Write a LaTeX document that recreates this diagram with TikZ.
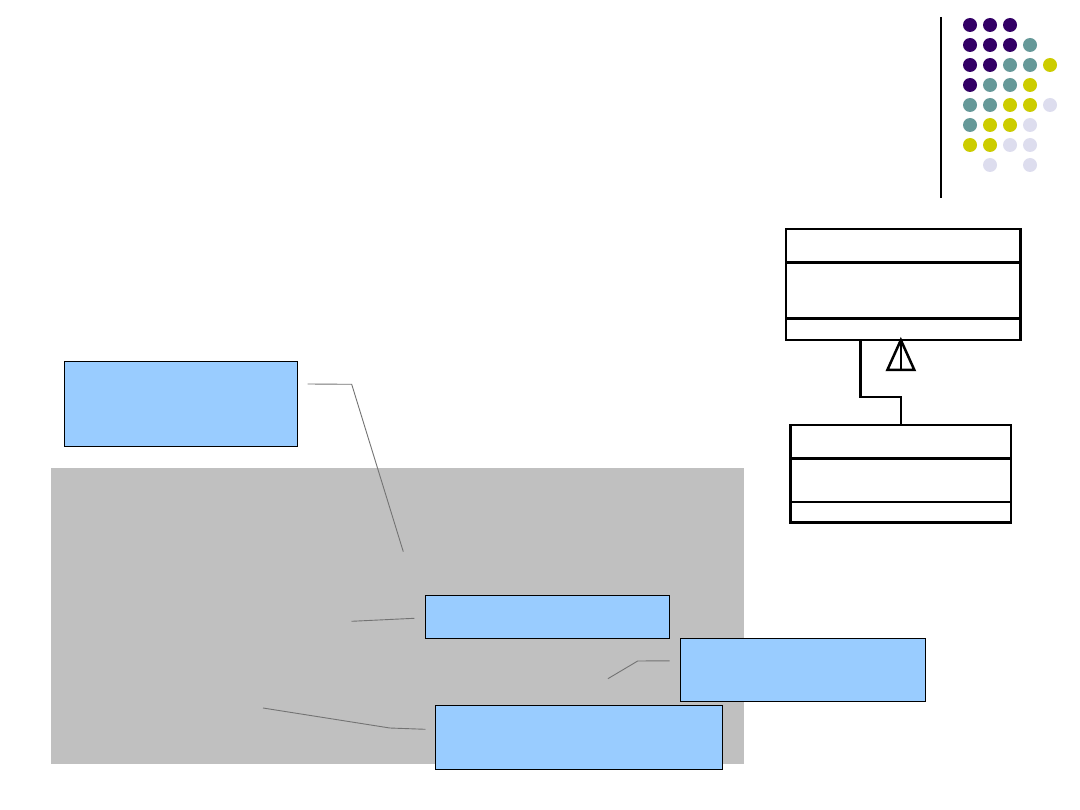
\documentclass[tikz,border=0pt]{standalone}
\usepackage{tikz}
\usetikzlibrary{positioning, calc}
\definecolor{dotP}{HTML}{330066}
\definecolor{dotT}{HTML}{669999}
\definecolor{dotY}{HTML}{CCCC00}
\definecolor{dotL}{HTML}{DDDDEE}
\definecolor{notec}{HTML}{99CCFF}
\definecolor{panelc}{HTML}{C0C0C0}
\tikzset{
  umlbox/.style={rectangle, draw=black, fill=white, line width=2.5pt,
                 inner sep=0pt, outer sep=0pt},
  uml/.style={black, line width=2.5pt},
  callout/.style={rectangle, draw=black, fill=notec, line width=1pt,
                  inner sep=0pt, outer sep=0pt},
  leader/.style={black!55, line width=0.9pt},
}
\newcommand{\umlclass}[6]{%
  \node[umlbox, minimum width=#3, minimum height=#4,
        anchor=north west] (#1) at #2 {};
  \draw[uml] ($(#1.north west)+(0,#5)$) -- ($(#1.north east)+(0,#5)$);
  \draw[uml] ($(#1.north west)+(0,#6)$) -- ($(#1.north east)+(0,#6)$);
}
\newcommand{\callbox}[4]{%
  \node[callout, minimum width=#3, minimum height=#4,
        anchor=north west] (#1) at #2 {};
}

\begin{document}
\begin{tikzpicture}[x=1pt, y=-1pt, line width=1pt]
  \useasboundingbox (0,0) rectangle (1080,810);
  % corner dots and rule
  \draw[black, line width=1.2pt] (941,17) -- (941,198);
  \foreach \row [count=\r] in {{1/P,2/P,3/P},{1/P,2/P,3/P,4/T},
      {1/P,2/P,3/T,4/T,5/Y},{1/P,2/T,3/T,4/Y},{1/T,2/T,3/Y,4/Y,5/L},
      {1/T,2/Y,3/Y,4/L},{1/Y,2/Y,3/L,4/L},{2/L,4/L}}
    \foreach \i/\c in \row
      \fill[dot\c] (950+20*\i, 5+20*\r) circle (7pt);
  % class diagram
  \umlclass{super}{(786,229)}{234.7pt}{111pt}{33.7}{89.7}
  \umlclass{sub}{(790.7,425)}{220.3pt}{97.7pt}{33.7}{77}
  \coordinate (bend) at (860.7,397);
  \coordinate (apex) at (sub.north |- super.south);
  \draw[uml] (sub.north) |- (bend) |- (apex);
  \draw[uml, line join=miter] (apex) -- ++(-13.5,30) -- ++(27,0) -- cycle;
  \draw[uml] (apex) -- ++(0,30);
  % code panel
  \fill[panelc] (51,467.7) rectangle (744,764.3);
  % notes
  \callbox{noteA}{(64.3,361.7)}{233.4pt}{84.6pt}
  \callbox{noteB}{(425.3,595.3)}{244.2pt}{43pt}
  \callbox{noteC}{(680.6,638.3)}{244.9pt}{63pt}
  \callbox{noteD}{(435.3,705.3)}{287.4pt}{64pt}
  \coordinate (kneeA) at (351.7,384.3);
  \coordinate (tipA) at (403.3,551.7);
  \coordinate (tipB) at (351.5,621.3);
  \coordinate (kneeC) at (637.7,661);
  \coordinate (tipC) at (607.9,678.7);
  \coordinate (kneeD) at (389.8,728);
  \coordinate (tipD) at (263,708);
  \draw[leader] ([xshift=10pt, yshift=20pt]noteA.east) -- (kneeA) -- (tipA);
  \draw[leader] ([xshift=-11pt, yshift=-1.5pt]noteB.west) -- (tipB);
  \draw[leader] ([xshift=-11pt, yshift=9pt]noteC.west) -- (kneeC) -- (tipC);
  \draw[leader] ([xshift=-10pt, yshift=8pt]noteD.west) -- (kneeD) -- (tipD);
\end{tikzpicture}
\end{document}
